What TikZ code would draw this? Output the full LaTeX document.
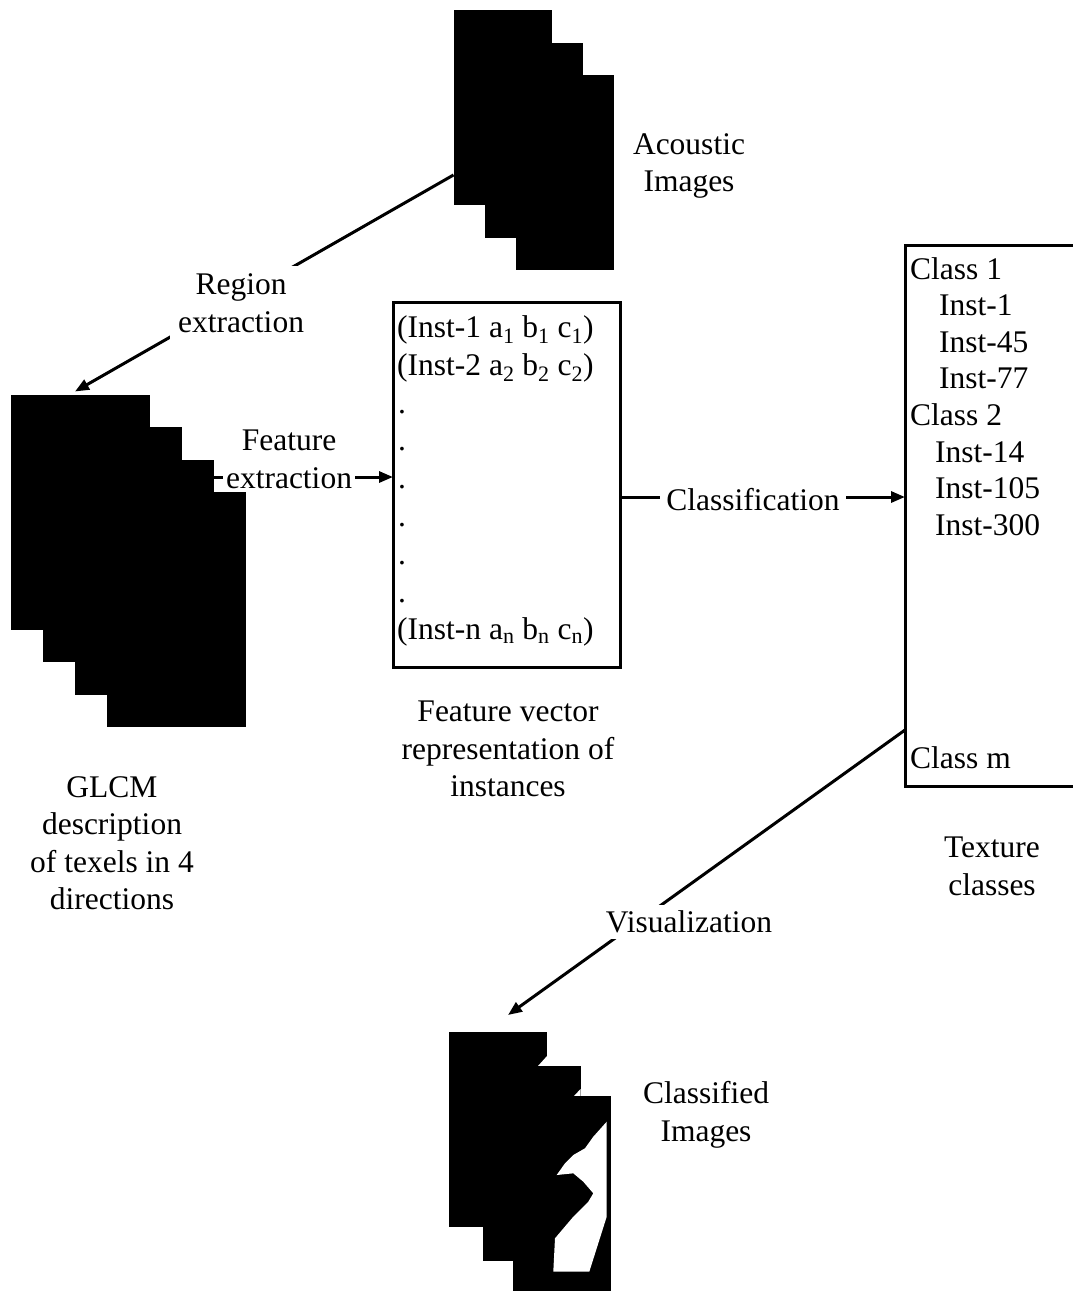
\documentclass[tikz,border=0pt]{standalone}
\usepackage{fontspec}
\setmainfont{Liberation Serif}
\usetikzlibrary{arrows.meta,calc}
\begin{document}
\begin{tikzpicture}[x=1pt,y=-1pt,
  blk/.style={fill=black,inner sep=0pt,outer sep=0pt,minimum width=98pt,minimum height=195pt},
  gblk/.style={blk,minimum width=139pt,minimum height=235pt},
  box/.style={draw,line width=3pt,inner sep=0pt,outer sep=0pt},
  txt/.style={font=\fontsize{31.5}{37.5}\selectfont,align=center,inner sep=0pt},
  lab/.style={txt,fill=white},
  conn/.style={line width=3pt,-{Triangle[length=14pt,width=11pt]}},
  ln/.style={font=\fontsize{31.5}{37.5}\selectfont,inner sep=0pt,anchor=base west},
]
\useasboundingbox (0,0) rectangle (1073,1294);

% acoustic images stack
\node[blk] (ac1) at (502.5,107.5) {};
\node[blk] (ac2) at (534,140) {};
\node[blk] (ac3) at (565,172) {};

% GLCM stack
\node[gblk] (gl1) at (80.5,512) {};
\node[gblk] (gl2) at (112,544.5) {};
\node[gblk] (gl3) at (144,577) {};
\node[gblk] (gl4) at (176,609.5) {};

% classified images stack
\node[blk] (cl1) at (498,1129.5) {};
\fill[white] (538,1066) -- (547,1056) -- (547,1066) -- cycle;
\node[blk] (cl2) at (531.5,1163.5) {};
\fill[white] (574,1096) -- (580.5,1089) -- (580.5,1096) -- cycle;
\node[blk] (cl3) at (562,1193.5) {};
\fill[white] (606.7,1121.7) -- (593.3,1136.7) -- (585,1148.3) -- (573.3,1155) -- (565,1163.3)
  -- (556.7,1175) -- (573.3,1173.3) -- (583.3,1181.7) -- (593.3,1193.3) -- (588.3,1201.7)
  -- (573.3,1216.7) -- (555,1238.3) -- (553.3,1271.7) -- (589.3,1271.7) -- (606.7,1216.7) -- cycle;

% feature vector box
\node[box,minimum width=227pt,minimum height=365pt] (fv) at (506.5,484.5) {};
\node[ln] (fv1) at (397,337.5) {(Inst-1 a\textsubscript{1} b\textsubscript{1} c\textsubscript{1})};
\node[ln] (fv2) at (397,375.3) {(Inst-2 a\textsubscript{2} b\textsubscript{2} c\textsubscript{2})};
\node[ln] (fv3) at (398,413.1) {.};
\node[ln] (fv4) at (398,450.9) {.};
\node[ln] (fv5) at (398,488.7) {.};
\node[ln] (fv6) at (398,526.5) {.};
\node[ln] (fv7) at (398,564.3) {.};
\node[ln] (fv8) at (398,602.1) {.};
\node[ln] (fv9) at (397,639.9) {(Inst-n a\textsubscript{n} b\textsubscript{n} c\textsubscript{n})};

% class box
\node[box,minimum width=171pt,minimum height=541pt] (cb) at (990.5,515.5) {};
\node[ln] (cb1) at (910,279) {Class 1};
\node[ln] (cb2) at (939,315.6) {Inst-1};
\node[ln] (cb3) at (939,352.2) {Inst-45};
\node[ln] (cb4) at (939,388.8) {Inst-77};
\node[ln] (cb5) at (910,425.4) {Class 2};
\node[ln] (cb6) at (935,462) {Inst-14};
\node[ln] (cb7) at (935,498.6) {Inst-105};
\node[ln] (cb8) at (935,535.2) {Inst-300};
\node[ln] (cb9) at (910,768) {Class m};

% captions
\node[txt] (acl) at (689,166) {Acoustic\\Images};
\node[txt] (gll) at (112,843) {GLCM\\description\\of texels in 4\\directions};
\node[txt] (fvl) at (508,749) {Feature vector\\representation of\\instances};
\node[txt] (cbl) at (992,866.5) {Texture\\classes};
\node[txt] (cll) at (706,1115) {Classified\\Images};

% connectors
\draw[conn] ([yshift=-67.5pt]ac1.west) -- ([xshift=-5.5pt,yshift=3pt]gl1.north);
\draw[conn] ([yshift=100pt]gl3.east) -- ([yshift=100pt]gl3.east -| fv.west);
\draw[conn] ([yshift=-12.5pt]fv.east) -- ([yshift=-12.5pt]fv.east -| cb.west);
\draw[conn] ([yshift=-214.5pt]cb.west) -- ([xshift=10pt,yshift=17pt]cl1.north);

% connector labels
\node[lab,inner sep=8pt] (rlab) at (241,303) {Region\\extraction};
\node[lab,inner xsep=3pt,inner ysep=1pt] (flab) at (289,459.5) {Feature\\extraction};
\node[lab,inner sep=6pt] (clab) at (753,500) {Classification};
\node[lab,inner sep=6pt] (vlab) at (689,922) {Visualization};
\end{tikzpicture}
\end{document}
